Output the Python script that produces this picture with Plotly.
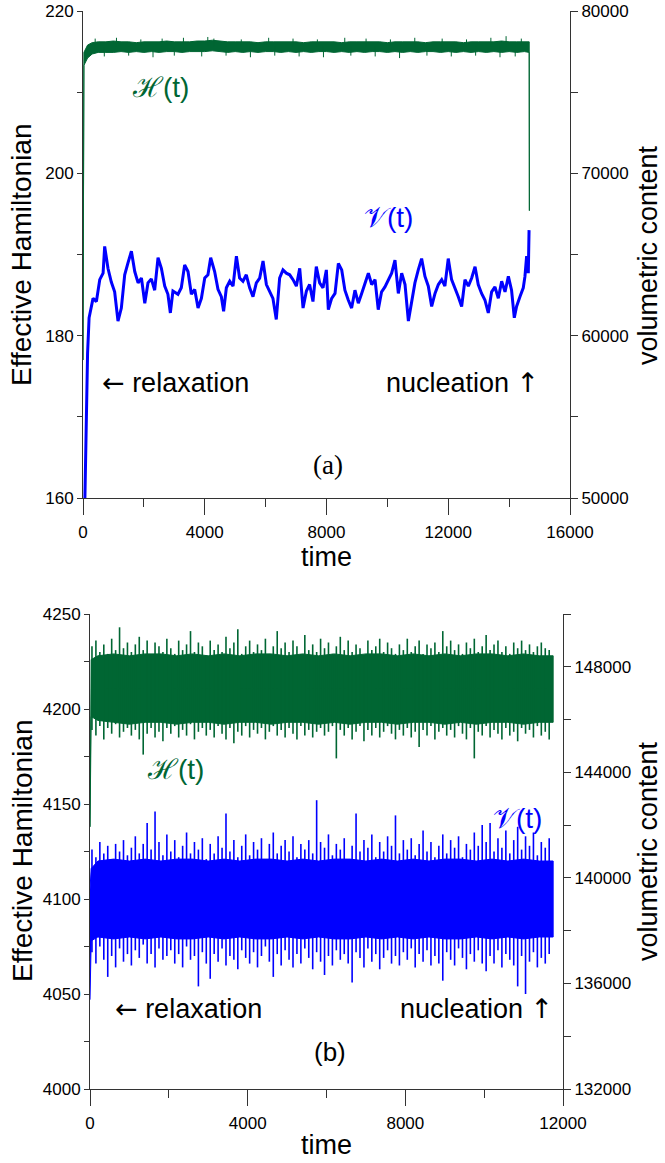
import plotly.graph_objects as go

W, H = 665, 1163
def fx(px): return px / W
def fy(py): return 1 - py / H

GREEN = "#006633"
BLUE = "#0000FF"
AX = "#333333"

# ---------------- panel (a) data ----------------
# H(t) band (left axis, Effective Hamiltonian)
ha_t = [0, 30, 150, 300, 500, 750, 1000, 1250, 1500, 1750, 2000, 2250, 2500, 2750, 3000, 3250,
        3500, 3750, 4000, 4250, 4500, 4750, 5000, 5250, 5500, 5750, 6000, 6250, 6500, 6750, 7000,
        7250, 7500, 7750, 8000, 8250, 8500, 8750, 9000, 9250, 9500, 9750, 10000, 10250, 10500,
        10750, 11000, 11250, 11500, 11750, 12000, 12250, 12500, 12750, 13000, 13250, 13500, 13750,
        14000, 14250, 14500, 14660, 14665]
ha_hi = [177, 214.9, 215.8, 216.1,
         216.2, 216.2, 216.3, 216.2, 216.2, 216.1, 216.2, 216.2, 216.2, 216.3,
         216.2, 216.2, 216.2, 216.3, 216.3, 216.4, 216.3, 216.2, 216.2, 216.2,
         216.2, 216.1, 216.2, 216.2, 216.2, 216.2, 216.2, 216.1, 216.2, 216.2,
         216.2, 216.2, 216.1, 216.2, 216.2, 216.2, 216.2, 216.2, 216.1, 216.2,
         216.2, 216.2, 216.2, 216.1, 216.2, 216.2, 216.2, 216.2, 216.1, 216.2,
         216.2, 216.2, 216.2, 216.3, 216.2, 216.2, 216.2,
         216.2, 195.4]
ha_lo = [177, 213.3, 214.2, 214.7,
         214.9, 214.9, 214.9, 215.0, 214.9, 215.0, 214.9, 215.0, 214.9, 215.0,
         215.0, 214.9, 215.0, 215.0, 215.0, 215.1, 215.0, 214.9, 215.0, 214.9,
         215.0, 214.9, 215.0, 215.0, 214.9, 215.0, 214.9, 215.0, 214.9, 215.0,
         215.0, 214.9, 215.0, 214.9, 215.0, 214.9, 215.0, 215.0, 214.9, 215.0,
         214.9, 215.0, 214.9, 215.0, 215.0, 214.9, 215.0, 214.9, 215.0, 214.9,
         215.0, 214.9, 215.0, 214.9, 215.0, 214.9, 215.0,
         214.9, 195.4]
ha_spikes_up = [(400, 216.6), (1100, 216.7), (1900, 216.5), (2600, 216.6), (3300, 216.7),
                (4100, 216.8), (4300, 216.6), (5200, 216.5), (6100, 216.7), (6900, 216.6),
                (7700, 216.5), (8600, 216.7), (9300, 216.6), (10100, 216.5), (10900, 216.7),
                (11800, 216.6), (12600, 216.5), (13400, 216.7), (13900, 216.9), (14400, 216.6)]
ha_spikes_dn = [(700, 214.4), (1500, 214.5), (2300, 214.3), (3000, 214.5), (3900, 214.4),
                (4700, 214.5), (5500, 214.3), (6300, 214.5), (7100, 214.4), (7900, 214.3),
                (8800, 214.5), (9600, 214.4), (10400, 214.2), (11300, 214.5), (12100, 214.4),
                (12900, 214.5), (13700, 214.3), (14200, 214.4)]
ha_mid = 215.6

# V(t) (right axis, volumetric content)
va_t = [60, 100, 150, 200, 260, 330, 440, 550, 660, 712, 820, 930, 1040, 1150, 1260, 1370, 1480,
        1590, 1700, 1810, 1920, 2030, 2135, 2245, 2355, 2465, 2575, 2685, 2790, 2870, 2955, 3120,
        3230, 3340, 3450, 3560, 3670, 3780, 3890, 4000, 4105, 4195, 4325, 4435, 4545, 4620, 4710,
        4820, 4930, 5040, 5145, 5255, 5365, 5475, 5585, 5695, 5805, 5915, 6025, 6130, 6240, 6350,
        6460, 6570, 6680, 6790, 6900, 7010, 7120, 7230, 7340, 7445, 7555, 7665, 7775, 7885, 7995,
        8060, 8170, 8280, 8390, 8500, 8605, 8715, 8825, 8935, 9045, 9155, 9265, 9375, 9485, 9595,
        9700, 9810, 9920, 10030, 10140, 10250, 10360, 10470, 10580, 10690, 10800, 10905, 11015,
        11125, 11235, 11345, 11455, 11565, 11675, 11785, 11890, 12000, 12110, 12220, 12330, 12440,
        12550, 12660, 12770, 12880, 12985, 13095, 13205, 13315, 13425, 13535, 13645, 13755, 13865,
        13975, 14080, 14170, 14245, 14355, 14465, 14520, 14575, 14630, 14655]
va_v = [49750, 54800, 58900, 61100, 61650, 62300, 62100, 63450, 63850, 65500, 64150, 63300, 62700,
        60900, 61700, 63750, 64500, 65200, 63950, 63250, 63550, 62000, 63250, 63500, 62800, 64800,
        64150, 63050, 62550, 61400, 62750, 62550, 62950, 64350, 63950, 62550, 62850, 61700, 62300,
        63550, 63750, 64800, 63950, 62850, 62400, 61500, 62950, 63350, 63050, 64900, 63550, 63350,
        63750, 62950, 62400, 63250, 63550, 64600, 63150, 62750, 62300, 61000, 63550, 64050, 63850,
        63750, 63450, 63050, 64150, 61700, 62750, 63150, 62100, 64250, 63250, 62950, 64050, 61600,
        62300, 62600, 64450, 64050, 62800, 62200, 61700, 62800, 62000, 62600, 63250, 63850, 63150,
        63450, 61600, 62700, 63000, 63450, 63850, 64650, 62600, 63850, 63150, 60900, 62000, 63250,
        64050, 64750, 63650, 63050, 61800, 62600, 63150, 63450, 63050, 64750, 63450, 62950, 62400,
        61800, 63450, 63050, 63550, 64250, 63150, 62600, 62200, 61400, 62700, 63000, 62300, 63350,
        62700, 63650, 62800, 61100, 61800, 62400, 62950, 63650, 64900, 63850, 66500]

# ---------------- panel (b) data ----------------
hb_t = [0, 30, 200, 600, 1000, 1400, 1800, 2200, 2600, 3000, 3400, 3800, 4200, 4600, 5000, 5400,
        5800, 6200, 6600, 7000, 7400, 7800, 8200, 8600, 9000, 9400, 9800, 10200, 10600, 11000,
        11400, 11750]
hb_hi = [4138, 4226, 4228, 4229, 4228, 4229, 4229, 4228, 4229, 4228, 4229, 4228, 4229, 4229,
         4228, 4229, 4228, 4229, 4228, 4229, 4229, 4228, 4229, 4228, 4229, 4228, 4229, 4229,
         4228, 4229, 4228, 4228]
hb_lo = [4138, 4196, 4194, 4193, 4192, 4193, 4193, 4192, 4193, 4193, 4192, 4193, 4193, 4192,
         4193, 4193, 4192, 4193, 4192, 4193, 4193, 4192, 4193, 4193, 4192, 4193, 4192, 4193,
         4193, 4192, 4193, 4193]
vb_t = hb_t
vb_hi = [4105, 4116, 4120, 4121, 4120, 4121, 4120, 4121, 4121, 4120, 4121, 4120, 4121, 4121,
         4120, 4121, 4120, 4121, 4121, 4120, 4121, 4120, 4121, 4120, 4121, 4121, 4120, 4121,
         4120, 4121, 4120, 4120]
vb_lo = [4047, 4078, 4080, 4079, 4080, 4079, 4080, 4079, 4079, 4080, 4079, 4080, 4079, 4079,
         4080, 4079, 4080, 4079, 4079, 4080, 4079, 4080, 4079, 4080, 4079, 4079, 4080, 4079,
         4080, 4079, 4080, 4080]

# fluctuation extremes read every 100 time units (t = 50, 150, ..., 11650)
spike_t = list(range(50, 11700, 100))
hb_up = [4233, 4236, 4230, 4234, 4229, 4237, 4231, 4243, 4232, 4235,
         4230, 4234, 4238, 4231, 4236, 4229, 4235, 4233, 4230, 4237,
         4232, 4229, 4236, 4231, 4234, 4241, 4230, 4235, 4233, 4228,
         4236, 4231, 4234, 4230, 4238, 4232, 4235, 4242, 4229, 4233,
         4236, 4230, 4234, 4231, 4237, 4229, 4233, 4241, 4232, 4235,
         4230, 4236, 4233, 4229, 4239, 4231, 4234, 4230, 4237, 4232,
         4235, 4229, 4233, 4238, 4231, 4236, 4230, 4234, 4232, 4228,
         4236, 4231, 4233, 4237, 4230, 4235, 4232, 4229, 4234, 4231,
         4237, 4230, 4233, 4236, 4229, 4234, 4232, 4235, 4230, 4241,
         4233, 4236, 4231, 4234, 4229, 4235, 4232, 4237, 4230, 4233,
         4239, 4231, 4234, 4236, 4230, 4233, 4229, 4235, 4232, 4236,
         4231, 4234, 4230, 4233, 4235, 4232, 4231]
hb_dn = [4189, 4186, 4191, 4184, 4190, 4187, 4192, 4185, 4188, 4190,
         4186, 4189, 4184, 4176, 4187, 4190, 4185, 4188, 4183, 4190,
         4187, 4191, 4185, 4189, 4186, 4192, 4184, 4188, 4190, 4186,
         4189, 4185, 4191, 4187, 4184, 4190, 4182, 4188, 4186, 4191,
         4185, 4189, 4187, 4190, 4184, 4188, 4191, 4186, 4189, 4185,
         4190, 4187, 4184, 4191, 4186, 4189, 4185, 4188, 4190, 4186,
         4188, 4191, 4174, 4189, 4186, 4190, 4184, 4188, 4191, 4183,
         4189, 4186, 4190, 4185, 4188, 4191, 4187, 4184, 4189, 4186,
         4190, 4185, 4188, 4180, 4189, 4186, 4191, 4184, 4188, 4190,
         4186, 4189, 4185, 4191, 4187, 4184, 4190, 4174, 4188, 4186,
         4191, 4185, 4189, 4187, 4184, 4190, 4186, 4188, 4183, 4190,
         4187, 4189, 4185, 4191, 4186, 4188, 4184]
vb_up = [4126, 4122, 4130, 4124, 4128, 4121, 4129, 4125, 4131, 4123,
         4127, 4133, 4124, 4129, 4140, 4126, 4146, 4130, 4123, 4134,
         4125, 4131, 4122, 4128, 4135, 4124, 4130, 4126, 4132, 4121,
         4129, 4124, 4133, 4127, 4145, 4125, 4131, 4122, 4128, 4134,
         4123, 4130, 4126, 4132, 4121, 4129, 4135, 4124, 4128, 4131,
         4125, 4133, 4122, 4129, 4126, 4131, 4124, 4152, 4130, 4127,
         4134, 4123, 4129, 4126, 4132, 4121, 4128, 4145, 4125, 4131,
         4127, 4134, 4122, 4130, 4125, 4133, 4128, 4144, 4124, 4131,
         4126, 4132, 4123, 4129, 4136, 4125, 4130, 4122, 4128, 4134,
         4124, 4131, 4127, 4133, 4122, 4129, 4126, 4135, 4128, 4139,
         4130, 4140, 4125, 4132, 4127, 4136, 4124, 4131, 4138, 4126,
         4133, 4128, 4135, 4123, 4130, 4127, 4132]
vb_dn = [4072, 4066, 4075, 4068, 4059, 4070, 4064, 4074, 4067, 4071,
         4065, 4073, 4069, 4076, 4066, 4071, 4064, 4074, 4068, 4070,
         4073, 4066, 4071, 4064, 4075, 4068, 4070, 4054, 4072, 4066,
         4058, 4071, 4067, 4074, 4065, 4070, 4068, 4063, 4073, 4069,
         4066, 4072, 4064, 4070, 4075, 4067, 4059, 4071, 4065, 4073,
         4068, 4064, 4071, 4066, 4074, 4069, 4063, 4072, 4067, 4060,
         4070, 4065, 4073, 4068, 4071, 4066, 4056, 4072, 4069, 4064,
         4074, 4067, 4071, 4063, 4069, 4073, 4066, 4070, 4065, 4072,
         4068, 4074, 4064, 4071, 4067, 4073, 4065, 4070, 4066, 4057,
         4072, 4068, 4065, 4074, 4069, 4063, 4071, 4067, 4073, 4066,
         4062, 4070, 4066, 4073, 4064, 4071, 4068, 4065, 4054, 4070,
         4050, 4067, 4072, 4064, 4069, 4066, 4071]
hb_mid = 4211
vb_mid = 4100

# axis tick values
xa_ticks = [0, 4000, 8000, 12000, 16000]
xb_ticks = [0, 4000, 8000, 12000]

fig = go.Figure()

def band(t, hi, lo, color, xa, ya):
    x = list(t) + list(t)[::-1]
    y = list(hi) + list(lo)[::-1]
    fig.add_trace(go.Scatter(x=x, y=y, mode="lines", fill="toself", fillcolor=color,
                             line=dict(color=color, width=1), xaxis=xa, yaxis=ya,
                             hoverinfo="skip", showlegend=False))

def needles(ts, vs, base, color, xa, ya, width=1.0):
    xs, ys = [], []
    for t, v in zip(ts, vs):
        xs += [t, t, None]
        ys += [base, v, None]
    fig.add_trace(go.Scatter(x=xs, y=ys, mode="lines", line=dict(color=color, width=width),
                             xaxis=xa, yaxis=ya, hoverinfo="skip", showlegend=False))

# panel (a)
band(ha_t, ha_hi, ha_lo, GREEN, "x", "y")
needles([p[0] for p in ha_spikes_up], [p[1] for p in ha_spikes_up], ha_mid, GREEN, "x", "y", 1)
needles([p[0] for p in ha_spikes_dn], [p[1] for p in ha_spikes_dn], ha_mid, GREEN, "x", "y", 1)
fig.add_trace(go.Scatter(x=va_t, y=va_v, mode="lines", line=dict(color=BLUE, width=3),
                         xaxis="x", yaxis="y2", hoverinfo="skip", showlegend=False))

# panel (b)
band(hb_t, hb_hi, hb_lo, GREEN, "x2", "y3")
needles(spike_t, hb_up, hb_mid, GREEN, "x2", "y3", 1.6)
needles(spike_t, hb_dn, hb_mid, GREEN, "x2", "y3", 1.6)
band(vb_t, vb_hi, vb_lo, BLUE, "x2", "y3")
needles(spike_t, vb_up, vb_mid, BLUE, "x2", "y3", 1.6)
needles(spike_t, vb_dn, vb_mid, BLUE, "x2", "y3", 1.6)
fig.add_trace(go.Scatter(x=[None], y=[None], xaxis="x2", yaxis="y4", showlegend=False))

TF = dict(family="Liberation Sans, Arial, sans-serif", size=17, color="black")
common = dict(showline=True, linecolor=AX, linewidth=1, showgrid=False, zeroline=False,
              ticks="outside", tickcolor=AX, tickwidth=1, tickfont=TF, tickformat="d",
              fixedrange=True, automargin=False)

fig.update_layout(
    width=W, height=H, margin=dict(l=0, r=0, t=0, b=0, autoexpand=False),
    paper_bgcolor="white", plot_bgcolor="white", showlegend=False,
    xaxis=dict(domain=[fx(83), fx(570)], range=[0, 16000], anchor="y", tickvals=xa_ticks,
               ticklen=16, ticklabelstandoff=3,
               minor=dict(dtick=2000, tick0=0, ticks="outside", ticklen=8, tickcolor=AX), **common),
    yaxis=dict(domain=[fy(498), fy(11)], range=[160, 220], anchor="x", dtick=20, tick0=160,
               ticklen=5, minor=dict(dtick=10, tick0=160, ticks="outside", ticklen=5, tickcolor=AX),
               **common),
    yaxis2=dict(overlaying="y", side="right", anchor="x", range=[50000, 80000], dtick=10000,
                tick0=50000, ticklen=7,
                minor=dict(dtick=5000, tick0=50000, ticks="outside", ticklen=7, tickcolor=AX),
                **common),
    xaxis2=dict(domain=[fx(90), fx(563)], range=[0, 12000], anchor="y3", tickvals=xb_ticks,
                ticklen=16, ticklabelstandoff=3,
                minor=dict(dtick=2000, tick0=0, ticks="outside", ticklen=8, tickcolor=AX), **common),
    yaxis3=dict(domain=[fy(1089), fy(614)], range=[4000, 4250], anchor="x2", dtick=50, tick0=4000,
                ticklen=5, minor=dict(dtick=25, tick0=4000, ticks="outside", ticklen=5, tickcolor=AX),
                **common),
    yaxis4=dict(overlaying="y3", side="right", anchor="x2", range=[132000, 150000], dtick=4000,
                tick0=132000, ticklen=7,
                minor=dict(dtick=2000, tick0=132000, ticks="outside", ticklen=7, tickcolor=AX),
                **common),
)

SANS = "Liberation Sans, Arial, sans-serif"
SERIF = "Liberation Serif, Times New Roman, serif"

def ann(text, px, py, size, color="black", family=SANS, xanchor="center", yanchor="middle", angle=0):
    fig.add_annotation(text=text, x=fx(px), y=fy(py), xref="paper", yref="paper",
                       xanchor=xanchor, yanchor=yanchor, showarrow=False, textangle=angle,
                       font=dict(family=family, size=size, color=color))

Hs = '<span style="font-family:DejaVu Serif">ℋ</span>(t)'
Vs = '<span style="font-family:DejaVu Serif">𝒱</span>(t)'
LA = '<span style="font-family:DejaVu Sans">←</span> relaxation'
UA = 'nucleation <span style="font-family:DejaVu Sans">↑</span>'

# panel (a) texts
ann("Effective Hamiltonian", 22, 255, 28, angle=-90)
ann("volumetric content", 648, 255, 27, angle=-90)
ann("time", 326, 557, 27)
ann(Hs, 160, 88, 28, GREEN)
ann(Vs, 388, 218, 28, BLUE)
ann(LA, 100, 382, 27, xanchor="left")
ann(UA, 541, 382, 27, xanchor="right")
ann("(a)", 328, 465, 27, family=SERIF)

# panel (b) texts
ann("Effective Hamiltonian", 22, 851, 28, angle=-90)
ann("volumetric content", 648, 851, 27, angle=-90)
ann("time", 326, 1145, 27)
ann(Hs, 175, 769, 28, GREEN)
ann(Vs, 517, 818, 28, BLUE)
ann(LA, 113, 1008, 27, xanchor="left")
ann(UA, 555, 1008, 27, xanchor="right")
ann("(b)", 330, 1052, 26)

fig.write_html("out.html")
